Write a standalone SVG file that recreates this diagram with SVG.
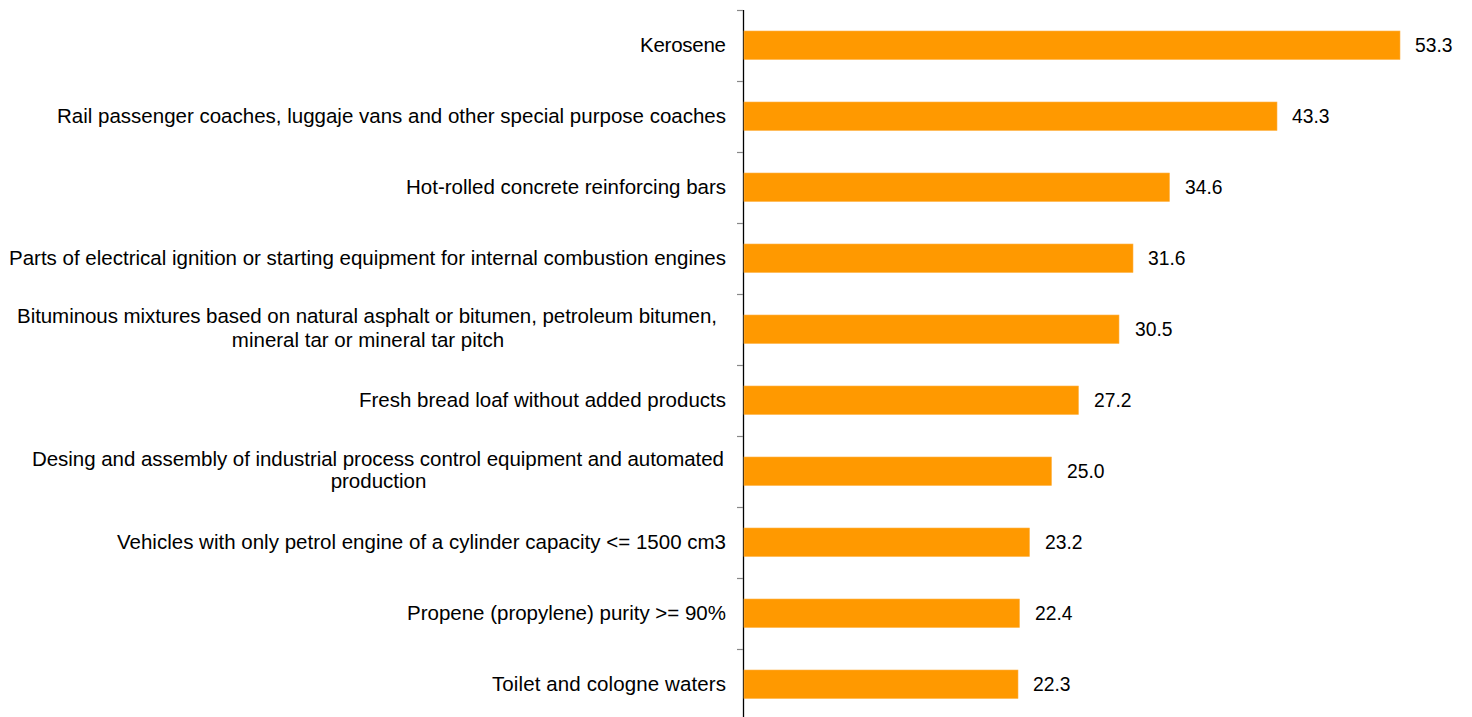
<svg xmlns="http://www.w3.org/2000/svg" width="1472" height="717" viewBox="0 0 1472 717">
<style>
text{font-family:"Liberation Sans",Arial,sans-serif;font-size:19.3px;fill:#000}
.lab{text-anchor:end;font-size:20.5px}
.mid{text-anchor:middle;font-size:20.5px}
.bar{fill:#FF9900;stroke:#FFB347;stroke-width:0.6}
.tick{stroke:#888;stroke-width:1.2}
</style>
<rect width="1472" height="717" fill="#fff"/>
<g id="axis">
<line x1="743.5" y1="10" x2="743.5" y2="717" stroke="#000" stroke-width="1.3"/>
<line class="tick" x1="737" y1="10.5" x2="743" y2="10.5"/>
<line class="tick" x1="737" y1="81.5" x2="743" y2="81.5"/>
<line class="tick" x1="737" y1="152.5" x2="743" y2="152.5"/>
<line class="tick" x1="737" y1="223.5" x2="743" y2="223.5"/>
<line class="tick" x1="737" y1="294.5" x2="743" y2="294.5"/>
<line class="tick" x1="737" y1="365.5" x2="743" y2="365.5"/>
<line class="tick" x1="737" y1="436.5" x2="743" y2="436.5"/>
<line class="tick" x1="737" y1="507.5" x2="743" y2="507.5"/>
<line class="tick" x1="737" y1="578.5" x2="743" y2="578.5"/>
<line class="tick" x1="737" y1="649.5" x2="743" y2="649.5"/>
</g>
<g id="bar1"><rect class="bar" x="744" y="31" width="656" height="28.5"/><text class="lab" x="726" y="52" textLength="86">Kerosene</text><text x="1415" y="52">53.3</text></g>
<g id="bar2"><rect class="bar" x="744" y="102" width="533" height="28.5"/><text class="lab" x="726" y="123" textLength="669">Rail passenger coaches, luggaje vans and other special purpose coaches</text><text x="1292" y="123">43.3</text></g>
<g id="bar3"><rect class="bar" x="744" y="173" width="425.5" height="28.5"/><text class="lab" x="726" y="194" textLength="320">Hot-rolled concrete reinforcing bars</text><text x="1185" y="194">34.6</text></g>
<g id="bar4"><rect class="bar" x="744" y="244" width="389" height="28.5"/><text class="lab" x="726" y="265" textLength="717">Parts of electrical ignition or starting equipment for internal combustion engines</text><text x="1148" y="265">31.6</text></g>
<g id="bar5"><rect class="bar" x="744" y="315" width="375" height="28.5"/><text class="mid" x="367" y="323.3" textLength="700">Bituminous mixtures based on natural asphalt or bitumen, petroleum bitumen,</text><text class="mid" x="368" y="347">mineral tar or mineral tar pitch</text><text x="1135" y="336">30.5</text></g>
<g id="bar6"><rect class="bar" x="744" y="386" width="334.5" height="28.5"/><text class="lab" x="726" y="407" textLength="367">Fresh bread loaf without added products</text><text x="1094" y="407">27.2</text></g>
<g id="bar7"><rect class="bar" x="744" y="457" width="307.5" height="28.5"/><text class="mid" x="378" y="465.8" textLength="692">Desing and assembly of industrial process control equipment and automated</text><text class="mid" x="378.5" y="488">production</text><text x="1067" y="478">25.0</text></g>
<g id="bar8"><rect class="bar" x="744" y="528" width="285.5" height="28.5"/><text class="lab" x="726" y="549" textLength="609">Vehicles with only petrol engine of a cylinder capacity &lt;= 1500 cm3</text><text x="1045" y="549">23.2</text></g>
<g id="bar9"><rect class="bar" x="744" y="599" width="275.5" height="28.5"/><text class="lab" x="726" y="620" textLength="319">Propene (propylene) purity &gt;= 90%</text><text x="1035" y="620">22.4</text></g>
<g id="bar10"><rect class="bar" x="744" y="670" width="274" height="28.5"/><text class="lab" x="726" y="691" textLength="234">Toilet and cologne waters</text><text x="1033" y="691">22.3</text></g>
</svg>
